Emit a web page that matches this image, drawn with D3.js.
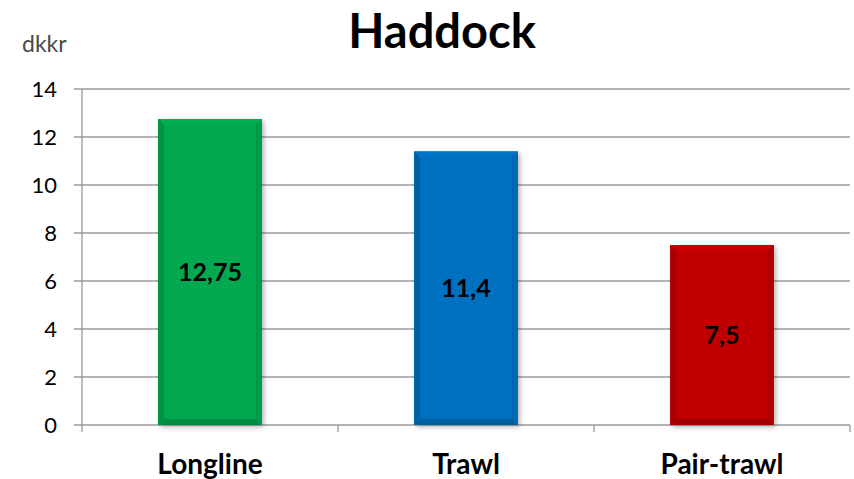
<!DOCTYPE html>
<html><head><meta charset="utf-8">
<script src="https://cdn.jsdelivr.net/npm/d3@7"></script>
<style>body{margin:0;background:#fff}svg{display:block}text{font-family:"Gill Sans","Lato","Open Sans",sans-serif}</style>
</head><body><svg id="c" width="854" height="479"></svg>
<script>
const categories = ["Longline", "Trawl", "Pair-trawl"];
const values = [12.75, 11.4, 7.5];
const valueLabels = ["12,75", "11,4", "7,5"];
const barColors = ["#00a84f", "#0070c0", "#c00000"];
const yTicks = [0, 2, 4, 6, 8, 10, 12, 14];
const titleText = "Haddock";
const unitText = "dkkr";

(function(){
const svg = d3.select("#c");
const pL = 82, pR = 850, pT = 89, pB = 425;
const x = d3.scaleBand().domain(categories).range([pL, pR]).padding(0);
const y = d3.scaleLinear().domain([0, 14]).range([pB, pT]);

const defs = svg.append("defs");
const f = defs.append("filter").attr("id","sh").attr("x","-20%").attr("y","-20%").attr("width","140%").attr("height","140%");
f.append("feGaussianBlur").attr("in","SourceAlpha").attr("stdDeviation",2.5).attr("result","b");
f.append("feOffset").attr("in","b").attr("dx",2).attr("dy",2).attr("result","o");
f.append("feComponentTransfer").attr("in","o").attr("result","o2").append("feFuncA").attr("type","linear").attr("slope",0.3);
const m = f.append("feMerge"); m.append("feMergeNode").attr("in","o2"); m.append("feMergeNode").attr("in","SourceGraphic");

svg.append("g").selectAll("line").data(yTicks).join("line")
  .attr("x1", pL - 8).attr("x2", pR).attr("y1", d => y(d)).attr("y2", d => y(d))
  .attr("stroke", "#9a9a9a").attr("stroke-width", 1.3);
svg.append("line").attr("x1", pL).attr("x2", pL).attr("y1", pT).attr("y2", pB + 7)
  .attr("stroke", "#9a9a9a").attr("stroke-width", 1.3);
const bounds = categories.map(c => x(c)).concat([x(categories[categories.length-1]) + x.bandwidth()]);
svg.append("g").selectAll("line").data(bounds.slice(1)).join("line")
  .attr("x1", d => d).attr("x2", d => d).attr("y1", pB).attr("y2", pB + 7)
  .attr("stroke", "#9a9a9a").attr("stroke-width", 1.3);

svg.append("g").selectAll("text").data(yTicks).join("text")
  .attr("x", 57).attr("y", d => y(d) + 8).attr("text-anchor", "end")
  .attr("font-size", 22).attr("fill", "#000").text(d => d);

const bw = x.bandwidth() * 0.405;
const bev = 6;
const g = svg.append("g");
categories.forEach((c, i) => {
  const cx = x(c) + x.bandwidth() / 2;
  const x0 = cx - bw / 2, x1 = cx + bw / 2, y0 = y(values[i]), y1 = y(0);
  const col = d3.color(barColors[i]);
  const bg = g.append("g").attr("filter", "url(#sh)");
  bg.append("rect").attr("x", x0).attr("y", y0).attr("width", bw).attr("height", y1 - y0).attr("fill", col);
  const poly = (pts, fill) => bg.append("polygon").attr("points", pts.map(p => p.join(",")).join(" ")).attr("fill", fill);
  poly([[x0,y0],[x1,y0],[x1-bev,y0+bev],[x0+bev,y0+bev]], col.brighter(0.12));
  poly([[x0,y0],[x0+bev,y0+bev],[x0+bev,y1-bev],[x0,y1]], col.darker(0.4));
  poly([[x1,y0],[x1,y1],[x1-bev,y1-bev],[x1-bev,y0+bev]], col.darker(0.25));
  poly([[x0,y1],[x0+bev,y1-bev],[x1-bev,y1-bev],[x1,y1]], col.darker(0.5));
  svg.append("text").attr("x", cx).attr("y", (y0 + y1) / 2 + 9).attr("text-anchor", "middle")
    .attr("font-size", 25).attr("font-weight", "bold").attr("fill", "#000").text(valueLabels[i]);
  svg.append("text").attr("x", cx).attr("y", 474).attr("text-anchor", "middle")
    .attr("font-size", 28).attr("font-weight", "bold").attr("fill", "#000").text(c);
});

svg.append("text").attr("x", 442).attr("y", 48).attr("text-anchor", "middle")
  .attr("font-size", 47).attr("font-weight", "bold").attr("fill", "#000").text(titleText);
svg.append("text").attr("x", 22).attr("y", 52)
  .attr("font-size", 23).attr("fill", "#4a4a4a").text(unitText);
})();
</script></body></html>
